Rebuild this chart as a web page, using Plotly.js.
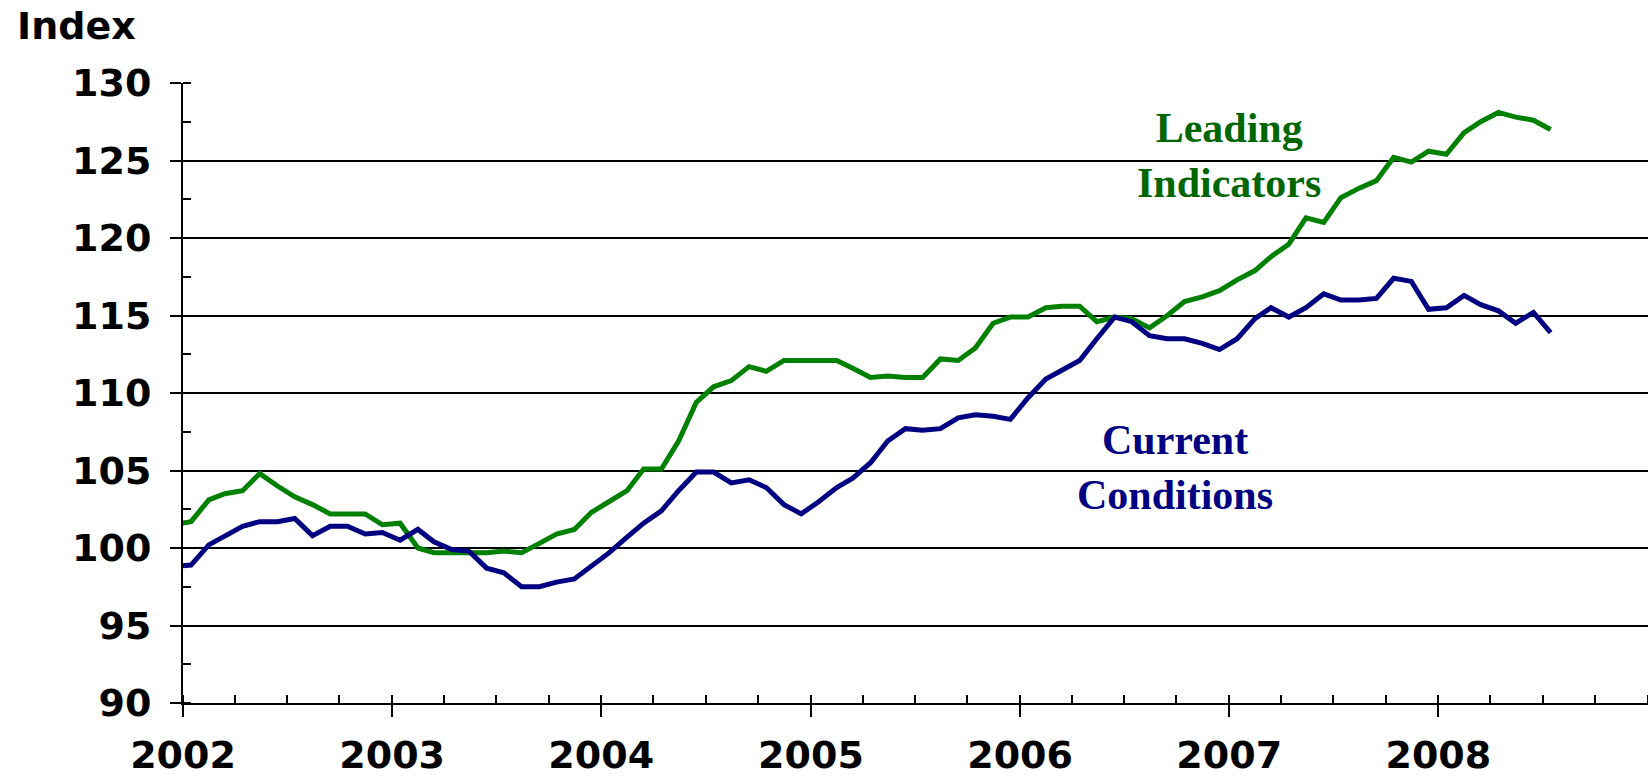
<!DOCTYPE html>
<html>
<head>
<meta charset="utf-8">
<script src="https://cdn.plot.ly/plotly-3.0.1.min.js"></script>
<style>
  html, body { margin: 0; padding: 0; background: #fff; }
  #chart { width: 1648px; height: 778px; }
</style>
</head>
<body>
<div id="chart"></div>
<script>
// Months (plotted mid-month); the Dec 2001 point sits just left of the axis and is clipped.
const months = [
  '2001-12',
  '2002-01','2002-02','2002-03','2002-04','2002-05','2002-06','2002-07','2002-08','2002-09','2002-10','2002-11','2002-12',
  '2003-01','2003-02','2003-03','2003-04','2003-05','2003-06','2003-07','2003-08','2003-09','2003-10','2003-11','2003-12',
  '2004-01','2004-02','2004-03','2004-04','2004-05','2004-06','2004-07','2004-08','2004-09','2004-10','2004-11','2004-12',
  '2005-01','2005-02','2005-03','2005-04','2005-05','2005-06','2005-07','2005-08','2005-09','2005-10','2005-11','2005-12',
  '2006-01','2006-02','2006-03','2006-04','2006-05','2006-06','2006-07','2006-08','2006-09','2006-10','2006-11','2006-12',
  '2007-01','2007-02','2007-03','2007-04','2007-05','2007-06','2007-07','2007-08','2007-09','2007-10','2007-11','2007-12',
  '2008-01','2008-02','2008-03','2008-04','2008-05','2008-06','2008-07'
];

const leadingIndicators = [
  101.5,
  101.7, 103.1, 103.5, 103.7, 104.8, 104.0, 103.3, 102.8, 102.2, 102.2, 102.2, 101.5,
  101.6, 100.0, 99.7, 99.7, 99.7, 99.7, 99.8, 99.7, 100.3, 100.9, 101.2, 102.3,
  103.0, 103.7, 105.1, 105.1, 106.9, 109.4, 110.4, 110.8, 111.7, 111.4, 112.1, 112.1,
  112.1, 112.1, 111.6, 111.0, 111.1, 111.0, 111.0, 112.2, 112.1, 112.9, 114.5, 114.9,
  114.9, 115.5, 115.6, 115.6, 114.6, 114.9, 114.8, 114.2, 115.0, 115.9, 116.2, 116.6,
  117.3, 117.9, 118.8, 119.6, 121.3, 121.0, 122.6, 123.2, 123.7, 125.2, 124.9, 125.6,
  125.4, 126.8, 127.5, 128.1, 127.8, 127.6, 127.0
];

const currentConditions = [
  98.8,
  98.9, 100.2, 100.8, 101.4, 101.7, 101.7, 101.9, 100.8, 101.4, 101.4, 100.9, 101.0,
  100.5, 101.2, 100.4, 99.9, 99.8, 98.7, 98.4, 97.5, 97.5, 97.8, 98.0, 98.8,
  99.7, 100.7, 101.6, 102.4, 103.7, 104.9, 104.9, 104.2, 104.4, 103.9, 102.8, 102.2,
  103.0, 103.9, 104.5, 105.5, 106.9, 107.7, 107.6, 107.7, 108.4, 108.6, 108.5, 108.3,
  109.7, 110.9, 111.5, 112.1, 113.5, 114.9, 114.6, 113.7, 113.5, 113.5, 113.2, 112.8,
  113.5, 114.8, 115.5, 114.9, 115.5, 116.4, 116.0, 116.0, 116.1, 117.4, 117.2, 115.4,
  115.5, 116.3, 115.7, 115.3, 114.5, 115.2, 113.9
];

const yearTicks = ['2002-01-01','2003-01-01','2004-01-01','2005-01-01','2006-01-01','2007-01-01','2008-01-01'];
const yearLabels = ['2002','2003','2004','2005','2006','2007','2008'];
const yTicks = [90, 95, 100, 105, 110, 115, 120, 125, 130];

const xDates = months.map(m => m + '-15');

const tickFont = { family: 'DejaVu Sans', size: 38, color: '#000', weight: 'bold' };

const traces = [
  {
    x: xDates, y: leadingIndicators, type: 'scatter', mode: 'lines',
    name: 'Leading Indicators',
    line: { color: '#008000', width: 5 }
  },
  {
    x: xDates, y: currentConditions, type: 'scatter', mode: 'lines',
    name: 'Current Conditions',
    line: { color: '#000080', width: 5 }
  }
];

const layout = {
  width: 1648, height: 778,
  margin: { l: 183, r: 0, t: 83, b: 75, pad: 0 },
  paper_bgcolor: '#fff', plot_bgcolor: '#fff',
  showlegend: false,
  hovermode: false,
  xaxis: {
    type: 'date',
    range: ['2002-01-01', '2009-01-01'],
    tickmode: 'array', tickvals: yearTicks, ticktext: yearLabels,
    ticks: 'outside', ticklen: 12, tickwidth: 2, tickcolor: '#000',
    showline: true, linecolor: '#000', linewidth: 2,
    showgrid: false, zeroline: false,
    tickfont: tickFont,
    ticklabelstandoff: 5,
    minor: { tick0: '2002-01-01', dtick: 'M3', ticks: 'inside', ticklen: 8, tickwidth: 2, tickcolor: '#000', showgrid: false }
  },
  xaxis2: {
    type: 'date', overlaying: 'x', anchor: 'y',
    range: ['2002-01-01', '2009-01-01'],
    tickmode: 'array', tickvals: yearTicks,
    ticks: 'inside', ticklen: 12, tickwidth: 2, tickcolor: '#000',
    showticklabels: false, showgrid: false, showline: false, zeroline: false
  },
  yaxis: {
    range: [90, 130],
    tickmode: 'array', tickvals: yTicks,
    ticks: 'outside', ticklen: 11, tickwidth: 2, tickcolor: '#000',
    showline: true, linecolor: '#000', linewidth: 2,
    showgrid: true, gridcolor: '#000', gridwidth: 2,
    zeroline: false,
    tickfont: tickFont,
    ticklabelstandoff: 11,
    minor: { tick0: 90, dtick: 2.5, ticks: 'inside', ticklen: 8, tickwidth: 2, tickcolor: '#000', showgrid: false }
  },
  annotations: [
    {
      xref: 'paper', yref: 'paper', x: -0.1147, y: 1.092,
      xanchor: 'left', yanchor: 'middle', showarrow: false,
      text: 'Index', font: tickFont
    },
    {
      xref: 'x', yref: 'y', x: '2007-01-01', y: 125.3,
      xanchor: 'center', yanchor: 'middle', showarrow: false, align: 'center',
      text: 'Leading<br>Indicators',
      font: { family: 'Liberation Serif', size: 42, color: '#006600', weight: 'bold' }
    },
    {
      xref: 'x', yref: 'y', x: '2006-09-28', y: 105.2,
      xanchor: 'center', yanchor: 'middle', showarrow: false, align: 'center',
      text: 'Current<br>Conditions',
      font: { family: 'Liberation Serif', size: 42, color: '#000080', weight: 'bold' }
    }
  ]
};

Plotly.newPlot('chart', traces, layout, { displayModeBar: false, staticPlot: true });
</script>
</body>
</html>
